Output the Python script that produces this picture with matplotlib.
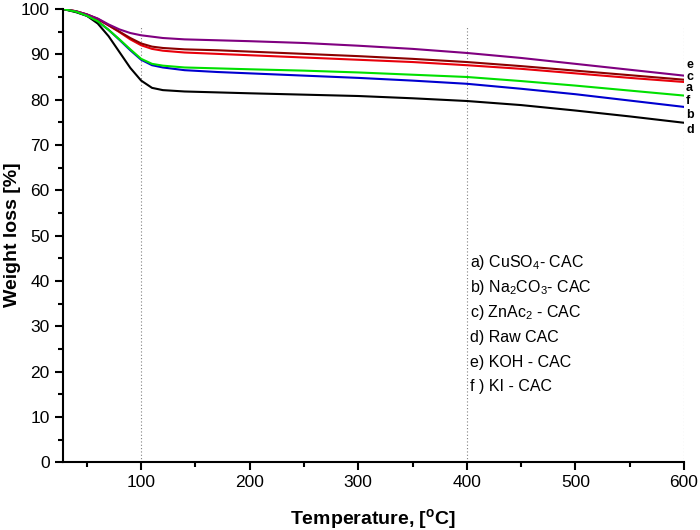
import matplotlib
matplotlib.use("Agg")
import matplotlib.pyplot as plt
from matplotlib.ticker import MultipleLocator

plt.rcParams['font.family'] = ['Liberation Sans', 'DejaVu Sans']
plt.rcParams['mathtext.fontset'] = 'custom'
plt.rcParams['mathtext.rm'] = 'Liberation Sans'
plt.rcParams['mathtext.it'] = 'Liberation Sans:italic'
plt.rcParams['mathtext.bf'] = 'Liberation Sans:bold'

temp = [28, 40, 50, 60, 70, 80, 90, 100, 110, 120, 140, 170, 200,
        250, 300, 350, 400, 450, 500, 550, 600]

# weight (%)
cuso4 = [100, 99.5, 98.8, 97.8, 96.4, 94.9, 93.3, 92.0, 91.2, 90.8, 90.4, 90.1, 89.8,
         89.3, 88.8, 88.3, 87.6, 86.8, 85.8, 84.8, 83.9]
na2co3 = [100, 99.4, 98.5, 97.3, 95.4, 93.2, 90.9, 88.8, 87.6, 87.1, 86.5, 86.1, 85.8,
          85.3, 84.8, 84.2, 83.5, 82.4, 81.2, 79.8, 78.4]
znac2 = [100, 99.5, 98.8, 97.8, 96.4, 95.0, 93.6, 92.4, 91.7, 91.4, 91.1, 90.9, 90.6,
         90.1, 89.6, 89.0, 88.3, 87.4, 86.4, 85.4, 84.4]
raw = [100, 99.3, 98.5, 96.8, 94.0, 90.5, 87.0, 84.2, 82.6, 82.1, 81.8, 81.6, 81.4,
       81.1, 80.8, 80.3, 79.7, 78.8, 77.6, 76.3, 74.9]
koh = [100, 99.5, 98.8, 97.9, 96.6, 95.5, 94.7, 94.2, 93.9, 93.6, 93.3, 93.1, 92.9,
       92.5, 91.9, 91.2, 90.3, 89.2, 87.9, 86.6, 85.3]
ki = [100, 99.4, 98.5, 97.3, 95.4, 93.3, 91.1, 89.0, 87.9, 87.5, 87.1, 86.9, 86.7,
      86.4, 86.0, 85.5, 85.0, 84.1, 83.1, 82.0, 80.9]

series = [cuso4, na2co3, znac2, raw, koh, ki]
colors = ['#e8000b', '#0000d0', '#8b0000', 'black', '#800080', '#00e000']
legend_lines = ["a) CuSO$_4$- CAC", "b) Na$_2$CO$_3$- CAC", "c) ZnAc$_2$ - CAC",
                "d) Raw CAC", "e) KOH - CAC", "f ) KI - CAC"]
end_labels = ['e', 'c', 'a', 'f', 'b', 'd']
end_pos = [87.6, 85.1, 82.5, 79.8, 76.7, 73.4]

fig = plt.figure(figsize=(7, 5.3), dpi=100)
ax = fig.add_axes([0.09, 0.128, 0.887, 0.855])

for x in [100, 400, 600]:
    ax.plot([x, x], [0, 96], color='gray', linestyle=(0, (1, 2)), linewidth=0.8)

for s, c in zip(series, colors):
    ax.plot(temp, s, color=c, linewidth=1.5)

for lab, y in zip(end_labels, end_pos):
    ax.text(602, y, lab, fontsize=9, fontweight='bold', va='center', ha='left', clip_on=False)

for i, t in enumerate(legend_lines):
    ax.text(403, 44.1 - 5.5 * i, t, fontsize=11.5, va='center', ha='left')

ax.set_xlim(28, 600)
ax.set_ylim(0, 100)
ax.xaxis.set_major_locator(MultipleLocator(100))
ax.xaxis.set_minor_locator(MultipleLocator(50))
ax.yaxis.set_major_locator(MultipleLocator(10))
ax.yaxis.set_minor_locator(MultipleLocator(5))
ax.spines['top'].set_visible(False)
ax.spines['right'].set_visible(False)
ax.spines['left'].set_linewidth(1.5)
ax.spines['bottom'].set_linewidth(1.5)
ax.tick_params(which='major', direction='out', length=6, width=1.5, labelsize=12.5)
ax.tick_params(which='minor', direction='out', length=3.5, width=1.5)

fig.text(0.5 + (373 - 350) / 700, 1 - 519 / 530, "Temperature, [$^\\mathregular{o}$C]",
         fontsize=14, fontweight='bold', ha='center', va='center')
fig.text(13 / 700, 1 - 235 / 530, "Weight loss [%]", fontsize=14, fontweight='bold',
         rotation=90, ha='center', va='center')

fig.savefig("out.png", dpi=100)
